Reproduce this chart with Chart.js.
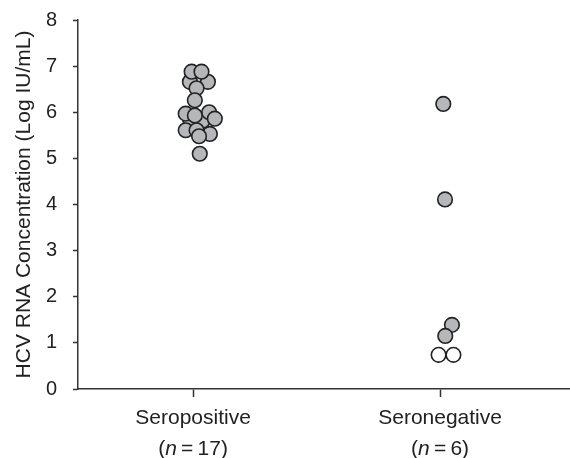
<!DOCTYPE html>
<html>
<head>
<meta charset="utf-8">
<script src="https://cdn.jsdelivr.net/npm/chart.js@4/dist/chart.umd.min.js"></script>
<style>
  html, body { margin: 0; padding: 0; background: #fff; }
  #wrap { width: 570px; height: 458px; }
</style>
</head>
<body>
<div id="wrap"><canvas id="hcv" width="570" height="458"></canvas></div>
<script>
// groups on the x axis
const groups = ['Seropositive', 'Seronegative'];
const groupN = [17, 6];
const groupPos = [1, 2];

// seropositive: x position (spread around 1) and log IU/mL
const posX = [0.987, 1.060, 0.994, 1.034, 1.014, 1.007,
              0.987, 1.039, 0.970, 1.065, 1.088, 1.007,
              0.970, 1.068, 1.014, 1.024, 1.027];
const posY = [6.66, 6.66, 6.88, 6.88, 6.52, 6.26,
              5.86, 5.82, 5.97, 6.00, 5.86, 5.93,
              5.61, 5.53, 5.61, 5.48, 5.10];

// seronegative, detectable
const negX = [2.013, 2.020, 2.048, 2.021];
const negY = [6.18, 4.11, 1.39, 1.15];

// seronegative, below detection (open circles)
const undX = [1.994, 2.054];
const undY = [0.74, 0.74];

const yTicks = [0, 1, 2, 3, 4, 5, 6, 7, 8];

const toPts = (xs, ys) => xs.map((x, i) => ({x: x, y: ys[i]}));

const ink = '#222';
const fontFam = '"Liberation Sans", Arial, Helvetica, sans-serif';

// draws the two-line category labels, with an italic n
const groupLabels = {
  id: 'groupLabels',
  afterDraw(chart) {
    const ctx = chart.ctx;
    const xs = chart.scales.x;
    ctx.save();
    ctx.fillStyle = ink;
    ctx.textBaseline = 'alphabetic';
    groups.forEach((g, i) => {
      const cx = xs.getPixelForValue(groupPos[i]);
      ctx.font = '21px ' + fontFam;
      ctx.textAlign = 'center';
      ctx.fillText(g, cx, 424);
      // second line: (n = N)
      const a = '(', b = 'n', c = '\u2009=\u2009' + groupN[i] + ')';
      ctx.font = '21px ' + fontFam;
      const wa = ctx.measureText(a).width;
      const wc = ctx.measureText(c).width;
      ctx.font = 'italic 21px ' + fontFam;
      const wb = ctx.measureText(b).width;
      let x0 = cx - (wa + wb + wc) / 2;
      ctx.textAlign = 'left';
      ctx.font = '21px ' + fontFam;
      ctx.fillText(a, x0, 455);
      ctx.font = 'italic 21px ' + fontFam;
      ctx.fillText(b, x0 + wa, 455);
      ctx.font = '21px ' + fontFam;
      ctx.fillText(c, x0 + wa + wb, 455);
    });
    ctx.restore();
  }
};

const ctxHcv = document.getElementById('hcv').getContext('2d');
const hcvChart = new Chart(ctxHcv, {
  type: 'scatter',
  data: {
    datasets: [
      {
        label: 'Seropositive',
        data: toPts(posX, posY),
        backgroundColor: '#b5b7ba',
        borderColor: ink,
        borderWidth: 1.6,
        pointRadius: 7.3,
        pointHoverRadius: 7.3
      },
      {
        label: 'Seronegative',
        data: toPts(negX, negY),
        backgroundColor: '#b5b7ba',
        borderColor: ink,
        borderWidth: 1.6,
        pointRadius: 7.3,
        pointHoverRadius: 7.3
      },
      {
        label: 'Undetectable',
        data: toPts(undX, undY),
        backgroundColor: '#fff',
        borderColor: ink,
        borderWidth: 1.6,
        pointRadius: 7.3,
        pointHoverRadius: 7.3
      }
    ]
  },
  options: {
    responsive: false,
    animation: false,
    layout: { autoPadding: false, padding: { top: 20, right: 0, bottom: 0, left: 0 } },
    plugins: {
      legend: { display: false },
      tooltip: { enabled: false }
    },
    scales: {
      x: {
        type: 'linear',
        min: 0.534,
        max: 2.526,
        afterBuildTicks: (scale) => { scale.ticks = groupPos.map(v => ({value: v})); },
        afterFit: (scale) => { scale.height = 69; },
        ticks: { callback: () => '', font: { size: 21, family: fontFam } },
        grid: {
          display: true,
          drawOnChartArea: false,
          drawTicks: true,
          tickLength: 8,
          tickWidth: 1.5,
          tickColor: '#333'
        },
        border: { display: true, color: '#333', width: 1.5 }
      },
      y: {
        min: 0,
        max: 8,
        afterBuildTicks: (scale) => { scale.ticks = yTicks.map(v => ({value: v})); },
        afterFit: (scale) => {
          scale.width = 78;
          // tick padding is horizontal here, don't let it push the top down
          scale.paddingTop = 12;
          scale.paddingBottom = 12;
        },
        ticks: {
          color: ink,
          padding: 16,
          font: { size: 20, family: fontFam }
        },
        grid: {
          display: true,
          drawOnChartArea: false,
          drawTicks: true,
          tickLength: 5,
          tickWidth: 1.5,
          tickColor: '#333'
        },
        border: { display: true, color: '#333', width: 1.5 },
        title: {
          display: true,
          text: 'HCV RNA Concentration (Log IU/mL)',
          color: ink,
          padding: { top: 12, bottom: 0 },
          font: { size: 21, family: fontFam }
        }
      }
    }
  },
  plugins: [groupLabels]
});
</script>
</body>
</html>
